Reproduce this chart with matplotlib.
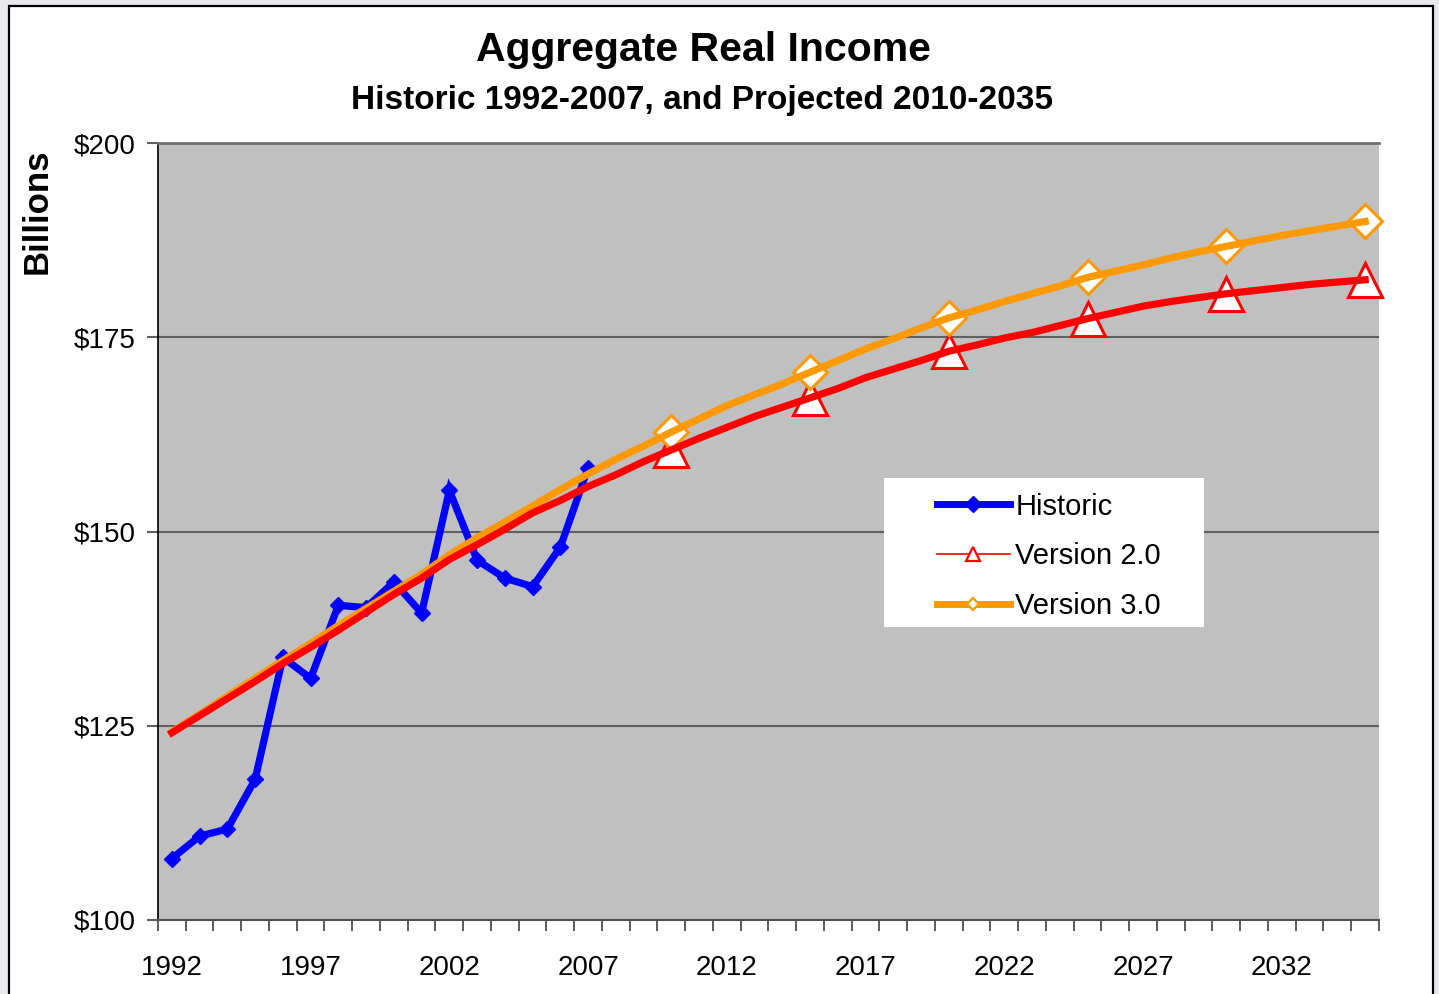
import matplotlib
matplotlib.use('Agg')
import matplotlib.pyplot as plt
from matplotlib.lines import Line2D
from matplotlib.patches import Rectangle

plt.rcParams['font.family'] = ['Liberation Sans', 'DejaVu Sans']

hist_years = list(range(1992, 2008))
hist_values = [107.9, 110.8, 111.7, 118.1, 133.8, 131.1, 140.5, 140.2,
               143.5, 139.5, 155.3, 146.3, 144.0, 142.9, 148.0, 158.2]

proj_years = list(range(1992, 2036))
v2_values = [124.1, 126.3, 128.5, 130.7, 133.0, 135.1, 137.3, 139.6, 141.9, 144.0,
             146.4, 148.3, 150.3, 152.4, 154.0, 155.8, 157.3, 159.0, 160.5, 162.0,
             163.4, 164.8, 166.0, 167.2, 168.4, 169.8, 170.9, 172.0, 173.2, 174.0,
             174.9, 175.6, 176.5, 177.4, 178.2, 179.0, 179.6, 180.1, 180.6, 181.0,
             181.4, 181.8, 182.1, 182.4]
v3_values = [124.2, 126.5, 128.8, 131.1, 133.4, 135.6, 137.9, 140.1, 142.3, 144.5,
             147.0, 149.2, 151.2, 153.3, 155.4, 157.4, 159.3, 161.0, 162.8, 164.5,
             166.2, 167.6, 169.0, 170.5, 172.0, 173.5, 174.8, 176.2, 177.5, 178.5,
             179.6, 180.6, 181.6, 182.7, 183.5, 184.3, 185.2, 186.0, 186.7, 187.4,
             188.1, 188.7, 189.3, 189.9]
marker_years = [2010, 2015, 2020, 2025, 2030, 2035]
label_years = [1992, 1997, 2002, 2007, 2012, 2017, 2022, 2027, 2032]
y_ticks = [100, 125, 150, 175, 200]

W, H = 1439, 994
fig = plt.figure(figsize=(W / 100, H / 100), dpi=100, facecolor='#e8e8ec')
fig.patches.append(Rectangle((9 / W, -0.05), (1433 - 9) / W, 1.05 - 6 / H,
                             transform=fig.transFigure, facecolor='white',
                             edgecolor='black', linewidth=1.6, zorder=-1))

ax = fig.add_axes([158 / W, 1 - 920 / H, (1379 - 158) / W, (920 - 143) / H])
ax.set_facecolor('#c0c0c0')

idx = [proj_years.index(y) for y in marker_years]
mk_v2 = [v2_values[i] for i in idx]
mk_v3 = [v3_values[i] for i in idx]

# markers sit beneath the lines, as in the original
ax.plot(marker_years, mk_v2, linestyle='none', marker='^', ms=25, mfc='white',
        mec='#ff0000', mew=2.2, zorder=2, clip_on=False)
ax.plot(marker_years, mk_v3, linestyle='none', marker='D', ms=17.5, mfc='white',
        mec='#ff9900', mew=2.2, zorder=2, clip_on=False)
ax.plot(hist_years, hist_values, color='#0000ff', lw=5.2, marker='D', ms=8,
        mfc='#0000ff', mec='#0000ff', zorder=3, solid_joinstyle='miter')
ax.plot(proj_years, v3_values, color='#ff9900', lw=5.2, zorder=4)
ax.plot(proj_years, v2_values, color='#ff0000', lw=5.2, zorder=5)

ax.set_xlim(1991.5, 2035.5)
ax.set_ylim(100, 200)
ax.set_yticks(y_ticks)
ax.set_yticklabels(['$%d' % v for v in y_ticks], fontsize=20)
ax.set_xticks(label_years)
ax.set_xticklabels([str(y) for y in label_years], fontsize=20)
ax.set_xticks([y - 0.5 for y in proj_years] + [2035.5], minor=True)
ax.tick_params(axis='x', which='major', length=0, pad=25)
ax.tick_params(axis='x', which='minor', length=8, width=1.2, color='#404040', direction='out')
ax.tick_params(axis='y', length=8, width=1.5, color='#606060', pad=8)

for v in y_ticks[1:-1]:
    ax.axhline(v, color='#606060', lw=1.5, zorder=1)
ax.spines['right'].set_visible(False)
ax.spines['top'].set_color('#707070')
ax.spines['top'].set_linewidth(2)
ax.spines['bottom'].set_color('#505050')
ax.spines['bottom'].set_linewidth(1.5)
ax.spines['left'].set_color('black')
ax.spines['left'].set_linewidth(1.2)

fig.text(703 / W, 1 - 50 / H, 'Aggregate Real Income', ha='center', va='center',
         fontsize=29.5, fontweight='bold')
fig.text(702 / W, 1 - 100 / H, 'Historic 1992-2007, and Projected 2010-2035',
         ha='center', va='center', fontsize=24, fontweight='bold')
fig.text(37 / W, 1 - 211 / H, 'Billions', rotation=90, ha='center', va='center',
         fontsize=25, fontweight='bold')

# legend box
fig.patches.append(Rectangle((884 / W, 1 - 627 / H), 320 / W, 149 / H,
                             transform=fig.transFigure, facecolor='white',
                             edgecolor='none', zorder=6))
handles = [
    Line2D([], [], color='#0000ff', lw=5, marker='D', ms=8, mfc='#0000ff', mec='#0000ff'),
    Line2D([], [], color='#ff0000', lw=1.2, marker='^', ms=10, mfc='white', mec='#ff0000', mew=1.6),
    Line2D([], [], color='#ff9900', lw=5, marker='D', ms=6, mfc='white', mec='#ff9900', mew=1.6),
]
leg = fig.legend(handles, ['Historic', 'Version 2.0', 'Version 3.0'],
                 loc='upper left', bbox_to_anchor=(922 / W, 1 - 478 / H),
                 frameon=False, borderpad=0, fontsize=21, handlelength=2.5,
                 handletextpad=0.2, labelspacing=0.74)
leg.set_zorder(7)

fig.savefig('out.png', dpi=100, facecolor=fig.get_facecolor())
